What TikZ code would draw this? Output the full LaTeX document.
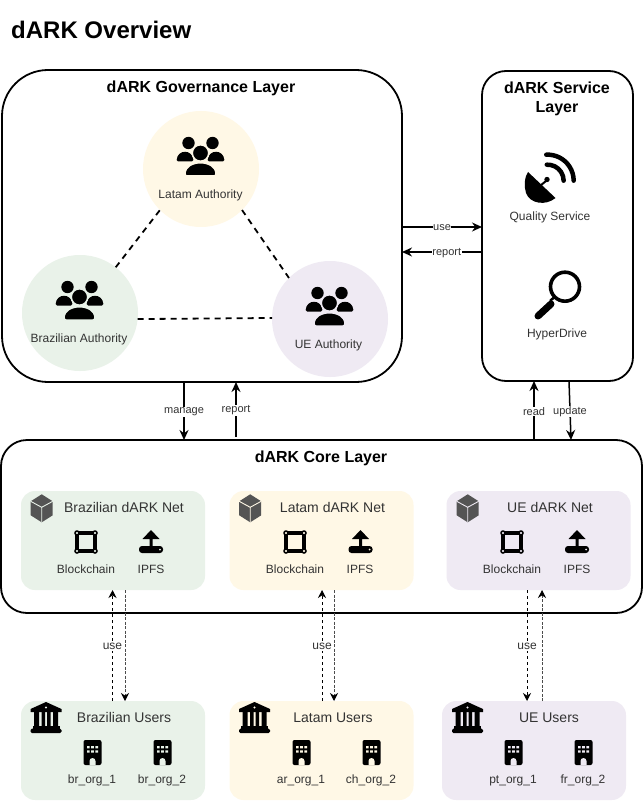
\documentclass[tikz,border=0pt]{standalone}
\usepackage{fontspec}
\setmainfont{Liberation Sans}
\usetikzlibrary{arrows.meta}

\definecolor{brfill}{HTML}{E9F2E9}
\definecolor{latamfill}{HTML}{FFF8E6}
\definecolor{uefill}{HTML}{EFEAF3}

\tikzset{
    layer/.style={draw=black, line width=1.8pt, fill=white, rounded corners=#1, outer sep=0pt, inner sep=0pt},
    netbox/.style={fill=#1, rounded corners=14pt, minimum width=184pt, minimum height=99pt, outer sep=0pt, inner sep=0pt},
    authority/.style={circle, fill=#1, minimum size=116pt, outer sep=0pt, inner sep=0pt},
    headline/.style={font=\fontsize{16}{18.5}\selectfont\bfseries, align=center, inner sep=0pt, yshift=-2pt},
    boxname/.style={font=\fontsize{14}{16}\selectfont, text=black!80, inner sep=0pt, yshift=-0.5pt},
    smalltext/.style={font=\fontsize{12}{14}\selectfont, text=black!80, inner sep=0pt, yshift=-1.5pt},
    flowlabel/.style={font=\fontsize{11}{13}\selectfont, text=black!80, fill=white, inner sep=0.5pt, yshift=-1pt},
    flow/.style={-{Stealth[length=10pt, width=9pt]}, line width=1.5pt},
    peerline/.style={line width=1.8pt, dash pattern=on 6pt off 5pt},
    uselink/.style={-{Stealth[length=8pt, width=8pt, black]}, line width=0.9pt, dash pattern=on 3pt off 3pt},
    denselink/.style={-{Stealth[length=8pt, width=8pt, black]}, line width=0.9pt, dash pattern=on 3pt off 1.5pt, black!70},
    pics/people/.style={code={
        \fill (-12,-14) circle (6.2);
        \fill (12,-14) circle (6.2);
        \fill[rounded corners=1.5pt] (-24,4.5) .. controls (-23,-8) and (-8,-8) .. (-7,4.5) -- cycle;
        \fill[rounded corners=1.5pt] (7,4.5) .. controls (8,-8) and (23,-8) .. (24,4.5) -- cycle;
        \filldraw[draw=#1, line width=1.5pt] (0,-4) circle (8.2);
        \filldraw[draw=#1, line width=1.5pt, rounded corners=2pt] (-15.5,19) .. controls (-15.5,2) and (15.5,2) .. (15.5,19) -- cycle;
    }},
    pics/cube/.style={code={
        \fill[black!67] (0,-14) -- (11,-7) -- (11,7) -- (0,14) -- (-11,7) -- (-11,-7) -- cycle;
        \draw[#1, line width=0.9pt] (-11,-7) -- (0,-1) -- (11,-7) (0,-1) -- (0,14);
    }},
    pics/chain/.style={code={
        \draw[line width=3.2pt] (-9,-9) rectangle (9,9);
        \foreach \cx/\cy in {-9/-9, 9/-9, -9/9, 9/9}
            \filldraw[draw=black, fill=#1, line width=1.5pt] (\cx,\cy) circle (2);
    }},
    pics/upload/.style={code={
        \fill (0,-12) -- (8.5,-3) -- (1.5,-3) -- (1.5,5) -- (-1.5,5) -- (-1.5,-3) -- (-8.5,-3) -- cycle;
        \fill[rounded corners=3pt] (-12,4) rectangle (12,11);
        \fill[#1] (9,7.5) circle (1);
    }},
    pics/bank/.style={code={
        \fill (0,-15.5) -- (15.5,-8.5) -- (15.5,-5.5) -- (-15.5,-5.5) -- (-15.5,-8.5) -- cycle;
        \fill[#1] (0,-10) circle (1.2);
        \fill (-12,-5.5) rectangle (-7,9) (-4.5,-5.5) rectangle (-1,9) (1,-5.5) rectangle (4.5,9) (7,-5.5) rectangle (12,9);
        \fill (-13.5,8) rectangle (13.5,11);
        \fill[rounded corners=1.5pt] (-15.5,11) rectangle (15.5,15.5);
    }},
    pics/office/.style={code={
        \fill[rounded corners=2pt] (-9,-12.5) rectangle (9,12.5);
        \fill[#1] (-5.5,-6.5) rectangle +(2.6,2.4) (-1.3,-6.5) rectangle +(2.6,2.4) (2.9,-6.5) rectangle +(2.6,2.4);
        \fill[#1] (-5.5,-2.2) rectangle +(2.6,2.4) (-1.3,-2.2) rectangle +(2.6,2.4) (2.9,-2.2) rectangle +(2.6,2.4);
        \fill[#1] (-3,12.6) -- (-3,8.5) arc [radius=3, start angle=180, end angle=360] -- (3,12.6) -- cycle;
    }},
}

\begin{document}
\begin{tikzpicture}[x=1pt, y=-1pt]
    \useasboundingbox (0,0) rectangle (643,802);

    \node[font=\fontsize{24}{28}\selectfont\bfseries, anchor=west, inner sep=0pt] (overview) at (11,30) {dARK Overview};

    % draw the three layers
    \node[layer=46pt, minimum width=400pt, minimum height=312pt] (gov) at (202,226) {};
    \node[layer=24pt, minimum width=151pt, minimum height=310pt] (service) at (557.5,226) {};
    \node[layer=26pt, minimum width=641pt, minimum height=173pt] (core) at (321.5,526.5) {};

    \node[headline] (govtitle) at (201,86) {dARK Governance Layer};
    \node[headline] (servicetitle) at (557,97) {dARK Service\\Layer};
    \node[headline] (coretitle) at (321,456) {dARK Core Layer};

    % draw authorities
    \node[authority=latamfill] (latam) at (201,169) {};
    \node[authority=brfill] (brazil) at (80,313) {};
    \node[authority=uefill] (ue) at (330,319) {};

    \pic at (200.5,157) {people=latamfill};
    \pic at (79.5,301) {people=brfill};
    \pic at (329.5,307) {people=uefill};
    \node[smalltext] (latamname) at (200.5,193.5) {Latam Authority};
    \node[smalltext] (brazilname) at (79,337.5) {Brazilian Authority};
    \node[smalltext] (uename) at (328.5,343.5) {UE Authority};

    \draw[peerline] (brazil.52) -- (latam.225);
    \draw[peerline] (latam.-45) -- (ue.135);
    \draw[peerline] (brazil.-6) -- (ue.179);

    % draw service icons
    \fill (528,172) -- (555.5,198) .. controls (546,206) and (530,204) .. (526,193) .. controls (524,186) and (524,178) .. (528,172) -- cycle;
    \draw[line width=2pt] (541,185) -- (548,179.5);
    \fill (547,179.5) circle (2.7);
    \draw[line width=4.5pt, line cap=round] (546.8,164.7) arc [radius=16, start angle=-93, end angle=0];
    \draw[line width=4.5pt, line cap=round] (546.3,154.7) arc [radius=26, start angle=-93, end angle=0];
    \node[smalltext] (quality) at (550,216) {Quality Service};

    \draw[line width=3.6pt] (565,286.7) circle (14.5);
    \draw[line width=2.5pt] (555,296.5) -- (550,301);
    \draw[line width=7pt, line cap=round] (551,304) -- (538,316);
    \node[smalltext] (hyper) at (557,332.5) {HyperDrive};

    % draw arrows between layers
    \draw[flow] (gov.east |- 0,227) -- node[flowlabel] (uselabel) {use} (service.west |- 0,227);
    \draw[flow] (service.west |- 0,252) -- node[flowlabel, pos=0.44] (reportlabel) {report} (gov.east |- 0,252);
    \draw[flow] (gov.south -| 184,0) -- node[flowlabel] (managelabel) {manage} (core.north -| 184,0);
    \draw[flow] (core.north -| 236,0) ++(0,-3) -- node[flowlabel] (govreport) {report} (gov.south -| 236,0);
    \draw[flow] (core.north -| 534,0) -- node[flowlabel] (readlabel) {read} (service.south -| 534,0);
    \draw[flow] (service.south -| 569,0) -- node[flowlabel] (updatelabel) {update} (core.north -| 571,0);

    % draw net boxes
    \node[netbox=brfill] (brnet) at (113,540.5) {};
    \node[netbox=latamfill] (latamnet) at (321.5,540.5) {};
    \node[netbox=uefill] (uenet) at (538.5,540.5) {};

    \pic at (41.7,508.3) {cube=brfill};
    \pic at (250.2,508.3) {cube=latamfill};
    \pic at (467.7,508.3) {cube=uefill};
    \node[boxname] (brnetname) at (124,507) {Brazilian dARK Net};
    \node[boxname] (latamnetname) at (332.5,507) {Latam dARK Net};
    \node[boxname] (uenetname) at (550,507) {UE dARK Net};

    \pic at (86,542) {chain=brfill};
    \pic at (151,542) {upload=brfill};
    \pic at (295,542) {chain=latamfill};
    \pic at (360.5,542) {upload=latamfill};
    \pic at (512,542) {chain=uefill};
    \pic at (577,542) {upload=uefill};
    \node[smalltext] (brchain) at (86,568) {Blockchain};
    \node[smalltext] (bripfs) at (151,568) {IPFS};
    \node[smalltext] (latamchain) at (295,568) {Blockchain};
    \node[smalltext] (latamipfs) at (360,568) {IPFS};
    \node[smalltext] (uechain) at (512,568) {Blockchain};
    \node[smalltext] (ueipfs) at (577,568) {IPFS};

    % draw user boxes
    \node[netbox=brfill] (brusers) at (113,750.5) {};
    \node[netbox=latamfill] (latamusers) at (321.5,750.5) {};
    \node[netbox=uefill] (ueusers) at (534,750.5) {};

    \pic at (46,717.5) {bank=brfill};
    \pic at (254.5,717.5) {bank=latamfill};
    \pic at (467.5,717.5) {bank=uefill};
    \node[boxname] (bruname) at (124,717) {Brazilian Users};
    \node[boxname] (latamuname) at (333,717.5) {Latam Users};
    \node[boxname] (ueuname) at (549,717) {UE Users};

    \pic at (92.5,752.5) {office=brfill};
    \pic at (162.5,752.5) {office=brfill};
    \pic at (301.5,752.5) {office=latamfill};
    \pic at (371.5,752.5) {office=latamfill};
    \pic at (513.5,752.5) {office=uefill};
    \pic at (583.5,752.5) {office=uefill};
    \node[smalltext] (brorgone) at (92,779) {br\_org\_1};
    \node[smalltext] (brorgtwo) at (162,779) {br\_org\_2};
    \node[smalltext] (arorg) at (301,779) {ar\_org\_1};
    \node[smalltext] (chorg) at (371,779) {ch\_org\_2};
    \node[smalltext] (ptorg) at (513,779) {pt\_org\_1};
    \node[smalltext] (frorg) at (583,779) {fr\_org\_2};

    % draw dashed links to users
    \draw[uselink] (brusers.north -| 112.5,0) -- node[flowlabel, font=\fontsize{12}{14}\selectfont, inner sep=1pt] (bruse) {use} (brnet.south -| 112.5,0);
    \draw[denselink] (brnet.south -| 125,0) -- (brusers.north -| 125,0);
    \draw[uselink] (latamusers.north -| 322,0) -- node[flowlabel, font=\fontsize{12}{14}\selectfont, inner sep=1pt] (latamuse) {use} (latamnet.south -| 322,0);
    \draw[denselink] (latamnet.south -| 334,0) -- (latamusers.north -| 334,0);
    \draw[uselink] (uenet.south -| 527,0) -- node[flowlabel, font=\fontsize{12}{14}\selectfont, inner sep=1pt] (ueuse) {use} (ueusers.north -| 527,0);
    \draw[denselink] (ueusers.north -| 542,0) -- (uenet.south -| 542,0);
\end{tikzpicture}
\end{document}
